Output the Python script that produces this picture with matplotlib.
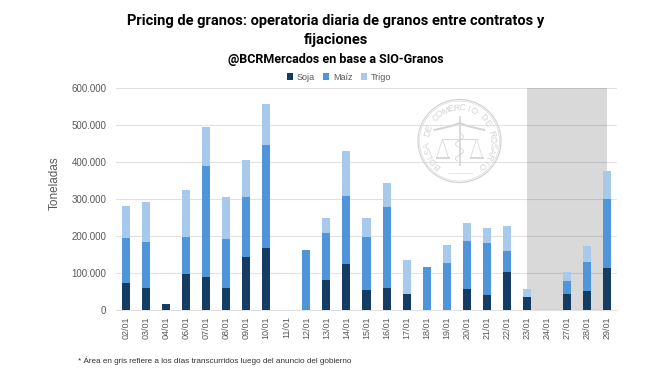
import numpy as np
import matplotlib
matplotlib.use('Agg')
import matplotlib.pyplot as plt
from matplotlib.patches import Circle

plt.rcParams['font.family'] = ['Liberation Sans', 'DejaVu Sans']

# Chart values, in tonnes
dates = ['02/01', '03/01', '04/01', '06/01', '07/01', '08/01', '09/01', '10/01', '11/01',
         '12/01', '13/01', '14/01', '15/01', '16/01', '17/01', '18/01', '19/01', '20/01',
         '21/01', '22/01', '23/01', '24/01', '27/01', '28/01', '29/01']
soja = [73000, 59000, 15000, 96000, 88000, 59000, 142000, 167000, 0,
        0, 81000, 123000, 54000, 57000, 43000, 0, 0, 55000,
        40000, 102000, 34000, 0, 42000, 51000, 112000]
maiz = [121000, 123000, 0, 100000, 302000, 132000, 164000, 279000, 0,
        160000, 126000, 184000, 143000, 220000, 0, 116000, 127000, 130000,
        140000, 56000, 0, 0, 35000, 77000, 188000]
trigo = [86000, 109000, 0, 129000, 105000, 113000, 98000, 111000, 0,
         1000, 41000, 121000, 50000, 65000, 90000, 0, 48000, 49000,
         40000, 68000, 21000, 0, 25000, 43000, 75000]
y_ticks = [0, 100000, 200000, 300000, 400000, 500000, 600000]

GREY = '#595959'

fig = plt.figure(figsize=(6.57, 3.84), dpi=100)
ax = fig.add_axes([116 / 657, 1 - 309.5 / 384, 501 / 657, 221.5 / 384])

x = np.arange(len(dates))
soja = np.array(soja)
maiz = np.array(maiz)
trigo = np.array(trigo)

ax.bar(x, soja, 0.4, color='#153d64', label='Soja', zorder=3)
ax.bar(x, maiz, 0.4, bottom=soja, color='#4e95d9', label='Maíz', zorder=3)
ax.bar(x, trigo, 0.4, bottom=soja + maiz, color='#a6c9ec', label='Trigo', zorder=3)

# grey window after the announcement
ax.axvspan(dates.index('23/01'), dates.index('29/01'), color='black', alpha=0.15, lw=0, zorder=2)

ax.set_xlim(-0.5, len(dates) - 0.5)
ax.set_ylim(0, 600000)
ax.set_xticks(x)
ax.set_xticklabels(dates, rotation=90, fontsize=6.5, color=GREY)
ax.set_yticks(y_ticks)
ax.set_yticklabels([f'{v:,}'.replace(',', '.') for v in y_ticks], fontsize=7, color=GREY)
ax.tick_params(length=0, pad=7)
ax.tick_params(axis='x', pad=5)
ax.grid(axis='y', color='#e2e2e2', lw=0.8, zorder=1)
ax.set_axisbelow(True)
for s in ['top', 'right', 'left']:
    ax.spines[s].set_visible(False)
ax.spines['bottom'].set_color('#e2e2e2')
ax.spines['bottom'].set_zorder(1)

fig.text(55 / 657, 1 - 183 / 384, 'Toneladas', rotation=90, ha='center', va='center',
         fontsize=8.5, color=GREY)

fig.legend(loc='center', bbox_to_anchor=(339 / 657, 1 - 77 / 384), ncol=3, frameon=False,
           fontsize=6.5, labelcolor=GREY, handlelength=0.7, handleheight=0.7,
           handletextpad=0.4, columnspacing=0.9)

title_font = ['Roboto', 'DejaVu Sans']
fig.text(336 / 657, 1 - 21 / 384, 'Pricing de granos: operatoria diaria de granos entre contratos y',
         ha='center', va='center', fontsize=10.5, fontweight='bold', family=title_font, color='black')
fig.text(336 / 657, 1 - 40 / 384, 'fijaciones', ha='center', va='center',
         fontsize=10.5, fontweight='bold', family=title_font, color='black')
fig.text(336 / 657, 1 - 59 / 384, '@BCRMercados en base a SIO-Granos', ha='center', va='center',
         fontsize=9, fontweight='bold', family=title_font, color='black')

fig.text(78 / 657, 1 - 361 / 384, '* Área en gris refiere a los días transcurridos luego del anuncio del gobierno',
         ha='left', va='center', fontsize=5.9, color='#333333')

# watermark, drawn in figure pixels
logo = fig.add_axes([0, 0, 1, 1], facecolor='none')
logo.set_xlim(0, 657)
logo.set_ylim(384, 0)
logo.set_aspect('equal')
logo.axis('off')
cx, cy, r = 459.5, 141, 41.5
mark = '#d4d4d4'
logo.add_patch(Circle((cx, cy), r, fill=False, ec=mark, lw=0.9))
logo.add_patch(Circle((cx, cy), r - 1.5, fill=False, ec=mark, lw=0.4))
ring = 'BOLSA DE COMERCIO DE ROSARIO'
for ch, a in zip(ring, np.linspace(228, -48, len(ring))):
    t = np.radians(a)
    logo.text(cx + 33 * np.cos(t), cy - 33 * np.sin(t), ch, fontsize=6.5, color=mark,
              rotation=a - 90, rotation_mode='anchor', ha='center', va='center')
logo.plot([cx, cx], [cy - 24, cy + 24], color=mark, lw=1.2)
logo.plot([cx - 25, cx - 8, cx, cx + 8, cx + 25], [cy - 11, cy - 15, cy - 18, cy - 15, cy - 11], color=mark, lw=1.4)
logo.plot([cx - 18, cx + 18], [cy - 2, cy - 2], color=mark, lw=0.6)
for s in (-1, 1):
    px = cx + s * 17
    logo.plot([px - 6, px, px + 6], [cy + 17, cy - 2, cy + 17], color=mark, lw=0.5)
    logo.plot([px - 6, px + 6], [cy + 17, cy + 17], color=mark, lw=1.3)
logo.plot(cx + 4 * np.sin(np.linspace(0, 12, 40)), np.linspace(cy - 8, cy + 20, 40), color=mark, lw=0.6)
logo.plot([cx - 12, cx + 12], [cy + 32, cy + 32], color=mark, lw=0.4)

fig.savefig('out.png', dpi=100, facecolor='white')
